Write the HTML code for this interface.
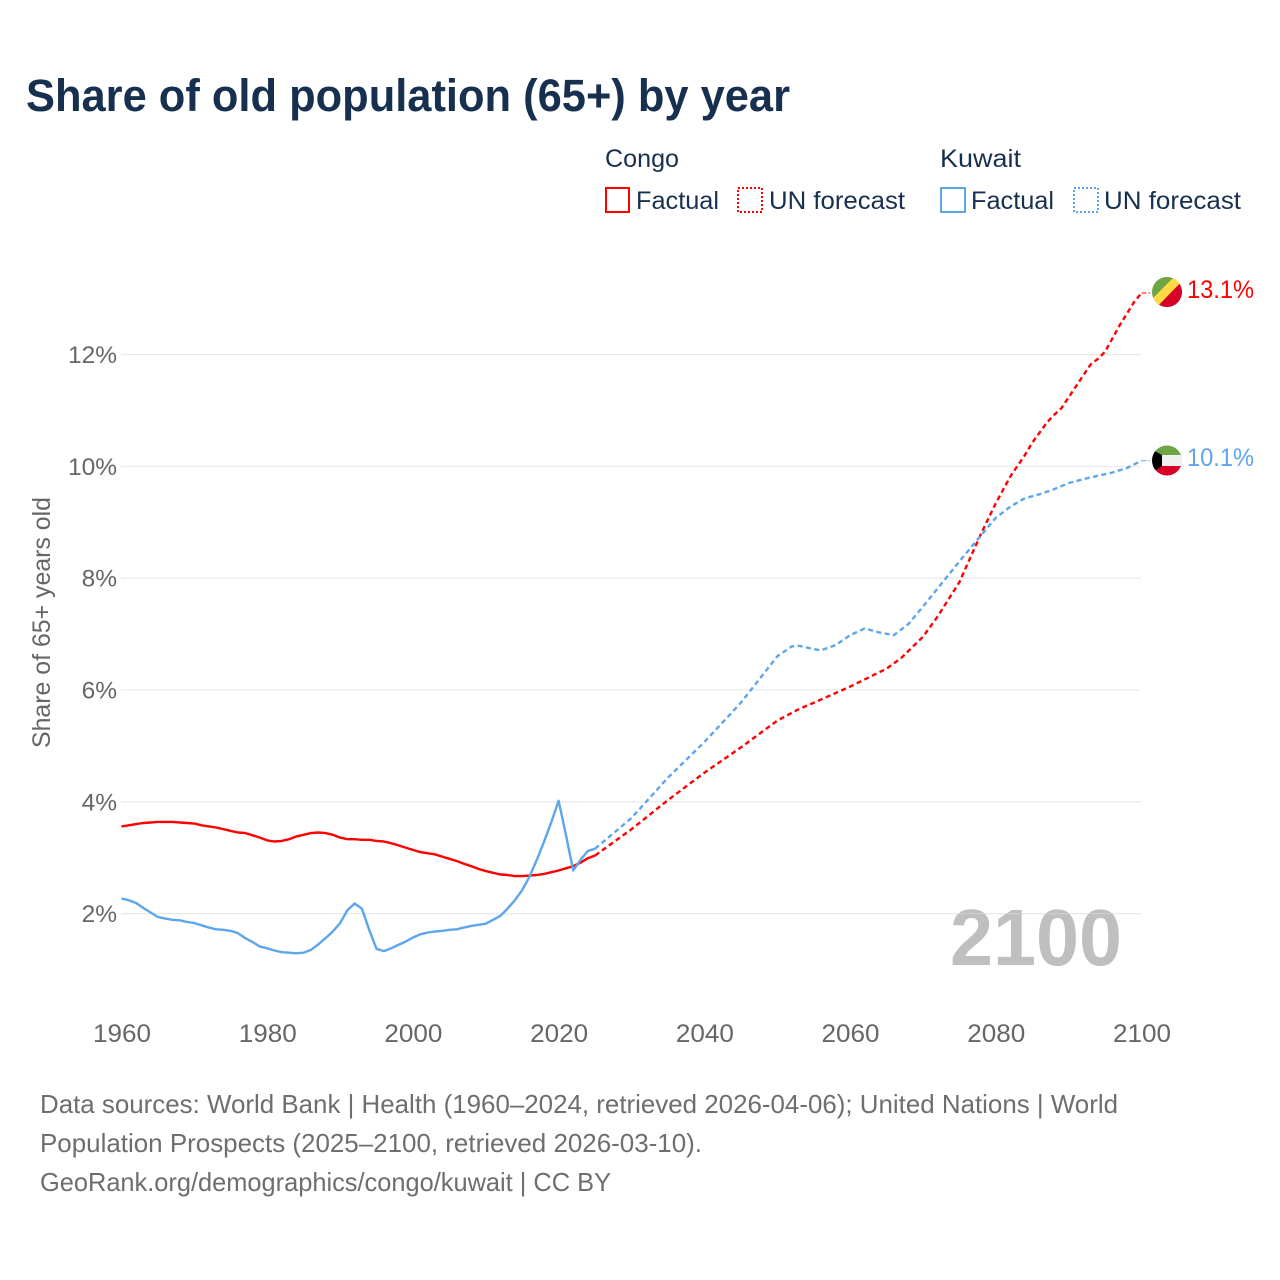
<!DOCTYPE html>
<html lang="en">
<head>
<meta charset="utf-8">
<title>Share of old population (65+) by year</title>
<style>
html,body{margin:0;padding:0;background:#fff;width:1280px;height:1280px;overflow:hidden}
svg{display:block;font-family:"Liberation Sans",sans-serif}
</style>
</head>
<body>
<svg id="chart" xmlns="http://www.w3.org/2000/svg" width="1280" height="1280" viewBox="0 0 1280 1280">
<defs>
<clipPath id="clip-congo"><circle cx="1167" cy="292" r="15"/></clipPath>
<clipPath id="clip-kuwait"><circle cx="1167" cy="460.5" r="15"/></clipPath>
</defs>
<rect width="1280" height="1280" fill="#fff"/>
<text x="26" y="111" font-size="45" font-weight="700" fill="#18304f" textLength="764" lengthAdjust="spacingAndGlyphs">Share of old population (65+) by year</text>

<g font-size="25" fill="#18304f">
<text x="605" y="167" textLength="74" lengthAdjust="spacingAndGlyphs">Congo</text>
<text x="940" y="167" textLength="81" lengthAdjust="spacingAndGlyphs">Kuwait</text>
<rect x="606" y="188" width="23" height="24" fill="none" stroke="#ff0000" stroke-width="2"/>
<text x="636" y="209" textLength="83" lengthAdjust="spacingAndGlyphs">Factual</text>
<rect x="738" y="188" width="24" height="24" fill="none" stroke="#ff0000" stroke-width="2" stroke-dasharray="2 2"/>
<text x="769" y="209" textLength="136" lengthAdjust="spacingAndGlyphs">UN forecast</text>
<rect x="941" y="188" width="24" height="24" fill="none" stroke="#5da5ec" stroke-width="2"/>
<text x="971" y="209" textLength="83" lengthAdjust="spacingAndGlyphs">Factual</text>
<rect x="1074" y="188" width="24" height="24" fill="none" stroke="#5da5ec" stroke-width="2" stroke-dasharray="2 2"/>
<text x="1104" y="209" textLength="137" lengthAdjust="spacingAndGlyphs">UN forecast</text>
</g>

<text x="950" y="965" font-size="80" font-weight="700" fill="#bfbfbf" textLength="172" lengthAdjust="spacingAndGlyphs">2100</text>
<g id="grid"></g>
<g id="y-ticks"></g>
<g id="x-ticks"></g>
<text transform="translate(50,748) rotate(-90)" font-size="25" fill="#666" textLength="251" lengthAdjust="spacingAndGlyphs">Share of 65+ years old</text>
<g id="series"></g>

<g clip-path="url(#clip-congo)">
<rect x="1150" y="275" width="34" height="34" fill="#6da544"/>
<polygon points="1176,275 1184,275 1184,283 1158,309 1150,309 1150,301" fill="#ffda44"/>
<polygon points="1184,279 1184,309 1155,309" fill="#d80027"/>
</g>
<g clip-path="url(#clip-kuwait)">
<rect x="1150" y="444" width="34" height="12" fill="#6da544"/>
<rect x="1150" y="455" width="34" height="11" fill="#f0f0f0"/>
<rect x="1150" y="466" width="34" height="12" fill="#d80027"/>
<polygon points="1150,444 1153,450 1162,455 1162,466 1153,472 1150,478" fill="#000"/>
</g>
<text x="1187" y="298" font-size="25" fill="#ff0000" textLength="67" lengthAdjust="spacingAndGlyphs">13.1%</text>
<text x="1187" y="466" font-size="25" fill="#5da5ec" textLength="67" lengthAdjust="spacingAndGlyphs">10.1%</text>

<g font-size="26" fill="#6e6e6e">
<text x="40" y="1113" textLength="1078" lengthAdjust="spacingAndGlyphs">Data sources: World Bank | Health (1960–2024, retrieved 2026-04-06); United Nations | World</text>
<text x="40" y="1152" textLength="662" lengthAdjust="spacingAndGlyphs">Population Prospects (2025–2100, retrieved 2026-03-10).</text>
<text x="40" y="1191" textLength="571" lengthAdjust="spacingAndGlyphs">GeoRank.org/demographics/congo/kuwait | CC BY</text>
</g>
</svg>
<script>
const xTickLabels = [1960, 1980, 2000, 2020, 2040, 2060, 2080, 2100];
const yTickLabels = [2, 4, 6, 8, 10, 12];
const factualStartYear = 1960;
const congoFactual = [3.56,3.58,3.60,3.62,3.63,3.64,3.64,3.64,3.63,3.62,3.61,3.58,3.56,3.54,3.51,3.48,3.45,3.44,3.40,3.36,3.31,3.29,3.30,3.33,3.38,3.41,3.44,3.45,3.44,3.41,3.36,3.33,3.33,3.32,3.32,3.30,3.29,3.26,3.22,3.18,3.14,3.10,3.08,3.06,3.02,2.98,2.94,2.89,2.85,2.80,2.76,2.73,2.70,2.69,2.67,2.67,2.68,2.69,2.71,2.74,2.77,2.81,2.85,2.91,2.99,3.04];
const kuwaitFactual = [2.27,2.24,2.19,2.10,2.02,1.94,1.91,1.89,1.88,1.85,1.83,1.79,1.75,1.72,1.71,1.69,1.65,1.56,1.49,1.41,1.38,1.34,1.31,1.30,1.29,1.30,1.35,1.45,1.56,1.68,1.83,2.06,2.18,2.09,1.71,1.37,1.33,1.38,1.44,1.50,1.57,1.63,1.66,1.68,1.69,1.71,1.72,1.75,1.78,1.80,1.82,1.89,1.96,2.09,2.24,2.42,2.66,2.96,3.29,3.64,4.02,3.41,2.77,2.96,3.12,3.16];
const congoForecastYears = [2025,2030,2035,2040,2045,2050,2053,2055,2060,2065,2067,2070,2072,2075,2078,2080,2082,2084,2085,2087,2088,2089,2091,2093,2094,2095,2097,2099,2100];
const congoForecast = [3.04,3.51,4.03,4.52,4.97,5.45,5.66,5.77,6.06,6.38,6.57,6.95,7.31,7.93,8.80,9.34,9.82,10.20,10.42,10.78,10.92,11.04,11.43,11.82,11.92,12.05,12.52,12.94,13.10];
const kuwaitForecastYears = [2025,2030,2035,2040,2045,2050,2052,2053,2055,2056,2058,2060,2062,2064,2066,2068,2070,2075,2078,2080,2082,2084,2086,2088,2090,2092,2094,2096,2098,2100];
const kuwaitForecast = [3.16,3.71,4.43,5.07,5.77,6.60,6.78,6.79,6.73,6.71,6.80,6.98,7.10,7.03,6.98,7.18,7.49,8.30,8.77,9.08,9.28,9.43,9.50,9.59,9.70,9.77,9.83,9.89,9.97,10.10];

const RED = '#ff0000';
const BLUE = '#5da5ec';
const SVGNS = 'http://www.w3.org/2000/svg';
function xScale(year) { return 121.5 + (year - 1960) * (1020 / 140); }
function yScale(v) { return 913.6 - (v - 2) * 55.91; }
function make(tag, parent) {
  const el = document.createElementNS(SVGNS, tag);
  parent.appendChild(el);
  return el;
}
function linePoints(years, values) {
  return values.map(function (v, i) { return xScale(years[i]).toFixed(1) + ',' + yScale(v).toFixed(1); }).join(' ');
}
const factualYears = congoFactual.map(function (_, i) { return factualStartYear + i; });

const grid = document.getElementById('grid');
const yTicks = document.getElementById('y-ticks');
yTickLabels.forEach(function (t) {
  const g = make('line', grid);
  
  
  g.setAttribute('x1', 121);
  g.setAttribute('x2', 1141);
  g.setAttribute('y1', yScale(t));
  g.setAttribute('y2', yScale(t));
  g.setAttribute('stroke', '#d8d8d8');
  g.setAttribute('stroke-opacity', '0.6');
  g.setAttribute('stroke-width', '1.2');
  const l = make('text', yTicks);
  
  
  l.setAttribute('x', 117);
  l.setAttribute('y', yScale(t) + 8.5);
  l.setAttribute('text-anchor', 'end');
  l.setAttribute('font-size', '24.5');
  l.setAttribute('fill', '#666');
  l.textContent = t + '%';
});

const xTicks = document.getElementById('x-ticks');
xTickLabels.forEach(function (t) {
  const l = make('text', xTicks);
  
  
  l.setAttribute('x', xScale(t) + 0.5);
  l.setAttribute('y', 1042);
  l.setAttribute('text-anchor', 'middle');
  l.setAttribute('font-size', '25');
  l.setAttribute('fill', '#666');
  l.setAttribute('textLength', '58');
  l.setAttribute('lengthAdjust', 'spacingAndGlyphs');
  l.textContent = t;
});

const series = document.getElementById('series');
function drawLine(years, values, color, dashed, name) {
  const p = make('polyline', series);
  
  
  p.setAttribute('points', linePoints(years, values));
  p.setAttribute('fill', 'none');
  p.setAttribute('stroke', color);
  p.setAttribute('stroke-width', '2.4');
  p.setAttribute('stroke-linejoin', 'round');
  if (dashed) p.setAttribute('stroke-dasharray', '5 3.5');
}
function drawConnector(value, color, name) {
  const c = make('line', series);
  
  
  c.setAttribute('x1', xScale(2100));
  c.setAttribute('x2', 1150);
  c.setAttribute('y1', yScale(value));
  c.setAttribute('y2', yScale(value));
  c.setAttribute('stroke', color);
  c.setAttribute('stroke-width', '1');
  c.setAttribute('stroke-dasharray', '5 2');
}
drawLine(factualYears, congoFactual, RED, false, 'line-congo-factual');
drawLine(congoForecastYears, congoForecast, RED, true, 'line-congo-forecast');
drawLine(factualYears, kuwaitFactual, BLUE, false, 'line-kuwait-factual');
drawLine(kuwaitForecastYears, kuwaitForecast, BLUE, true, 'line-kuwait-forecast');
drawConnector(congoForecast[congoForecast.length - 1], RED, 'connector-congo');
drawConnector(kuwaitForecast[kuwaitForecast.length - 1], BLUE, 'connector-kuwait');
</script>
</body>
</html>
